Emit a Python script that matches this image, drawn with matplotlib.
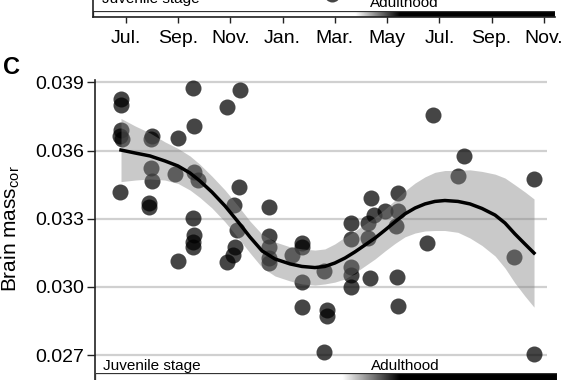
import numpy as np
import matplotlib.pyplot as plt
from matplotlib.patches import Rectangle

plt.rcParams['font.family'] = ['Liberation Sans', 'DejaVu Sans']
plt.rcParams['mathtext.default'] = 'regular'

W, H = 565, 380

# panel C: corrected brain mass vs. capture month (0 = July of first year)
month = [-0.18, -0.18, -0.18, -0.22, -0.14, -0.22,
         1.01, 0.97, 0.97, 1.01, 0.89, 0.89,
         2.00, 1.89, 2.00, 2.57, 2.61, 2.61, 2.77, 2.57, 2.61, 2.57, 2.57,
         3.88, 4.37, 4.33, 4.14, 4.26, 4.18, 4.10, 3.88,
         5.48, 5.48, 5.48, 5.48, 5.48,
         6.36, 6.74, 6.74, 6.74, 6.74,
         7.59, 7.70, 7.70, 7.59,
         8.62, 8.62, 8.62, 8.62, 8.62,
         9.38, 9.27, 9.50, 9.27, 9.35,
         9.92, 10.42, 10.42, 10.34, 10.38, 10.42,
         11.76, 11.53, 12.94, 12.71, 14.85, 15.62, 15.62]
brain = [0.03827, 0.03800, 0.03690, 0.03664, 0.03651, 0.03417,
         0.03664, 0.03651, 0.03523, 0.03466, 0.03369, 0.03351,
         0.03655, 0.03497, 0.03114, 0.03875, 0.03708, 0.03505, 0.03470, 0.03303, 0.03228, 0.03198, 0.03176,
         0.03791, 0.03866, 0.03439, 0.03360, 0.03250, 0.03176, 0.03140, 0.03110,
         0.03351, 0.03224, 0.03176, 0.03127, 0.03105,
         0.03140, 0.03193, 0.03176, 0.03022, 0.02912,
         0.03070, 0.02898, 0.02872, 0.02714,
         0.03281, 0.03211, 0.03088, 0.03052, 0.03000,
         0.03391, 0.03281, 0.03316, 0.03215, 0.03039,
         0.03334, 0.03413, 0.03334, 0.03268, 0.03044, 0.02916,
         0.03756, 0.03193, 0.03576, 0.03488, 0.03131, 0.03475, 0.02705]

# smoother
fit_month = [-0.18, 0.36, 0.93, 1.50, 2.00, 2.46, 2.84, 3.30, 3.80, 4.30, 4.75, 5.22, 5.71,
             6.29, 6.74, 7.24, 7.62, 8.00, 8.39, 8.77, 9.15, 9.54, 9.92, 10.30, 10.68,
             11.07, 11.45, 11.83, 12.21, 12.71, 13.17, 13.63, 14.13, 14.51, 14.89, 15.27, 15.62]
fit_val = [0.03602, 0.03589, 0.03576, 0.03554, 0.03532, 0.03501, 0.03466, 0.03417, 0.03356,
           0.03286, 0.03220, 0.03158, 0.03123, 0.03101, 0.03090, 0.03085, 0.03090, 0.03105,
           0.03127, 0.03154, 0.03184, 0.03215, 0.03250, 0.03286, 0.03321, 0.03347, 0.03365,
           0.03376, 0.03380, 0.03376, 0.03365, 0.03345, 0.03316, 0.03281, 0.03233, 0.03189, 0.03149]
fit_lo = [0.03463, 0.03470, 0.03475, 0.03470, 0.03455, 0.03426, 0.03393, 0.03347, 0.03286,
          0.03216, 0.03150, 0.03085, 0.03048, 0.03026, 0.03013, 0.03008, 0.03013, 0.03021,
          0.03035, 0.03062, 0.03092, 0.03123, 0.03158, 0.03191, 0.03220, 0.03237, 0.03246,
          0.03248, 0.03248, 0.03240, 0.03215, 0.03182, 0.03136, 0.03083, 0.03017, 0.02960, 0.02911]
fit_hi = [0.03741, 0.03708, 0.03677, 0.03638, 0.03609, 0.03576, 0.03539, 0.03487, 0.03426,
          0.03356, 0.03290, 0.03231, 0.03198, 0.03176, 0.03167, 0.03162, 0.03167, 0.03189,
          0.03219, 0.03246, 0.03276, 0.03307, 0.03342, 0.03381, 0.03422, 0.03457, 0.03484,
          0.03504, 0.03512, 0.03512, 0.03515, 0.03508, 0.03496, 0.03479, 0.03449, 0.03418, 0.03387]

y_ticks = [0.027, 0.030, 0.033, 0.036, 0.039]
month_ticks = [0, 2, 4, 6, 8, 10, 12, 14, 16]
month_labels = ['Jul.', 'Sep.', 'Nov.', 'Jan.', 'Mar.', 'May', 'Jul.', 'Sep.', 'Nov.']

# panel B (cropped above): one visible point
b_month = [7.88]
b_level = [0.49]


def box(x0, y0, x1, y1):
    return [x0 / W, 1 - y1 / H, (x1 - x0) / W, (y1 - y0) / H]

def px2month(px):
    return (px - 125.7) / 26.14

def py2val(py):
    return 0.039 - (py - 82.3) * 0.003 / 68.2

def stage_bar(ax, x0, x1, g0, g1):
    xs = np.linspace(x0, x1, 600)
    shade = np.clip((xs - g0) / (g1 - g0), 0, 1)[None, :]
    ax.imshow(shade, cmap='gray_r', vmin=0, vmax=1, aspect='auto',
              extent=(x0, x1, 0, 1), interpolation='bilinear')
    ax.add_patch(Rectangle((x0, 0), x1 - x0, 1, fill=False, ec='#333333', lw=0.9))
    ax.set_xlim(x0, x1)
    ax.set_ylim(0, 1)
    ax.axis('off')


fig = plt.figure(figsize=(W / 100, H / 100), dpi=100)

# ---- remains of panel B at top ----
barb = fig.add_axes(box(93, 10.7, 555, 17.3))
stage_bar(barb, px2month(93), px2month(555), 8.8, 10.5)

axb = fig.add_axes(box(93, -30, 555, 17.3))
axb.patch.set_alpha(0)
axb.set_xlim(px2month(93), px2month(555))
axb.set_ylim(0, 1)
for s in ['top', 'right']:
    axb.spines[s].set_visible(False)
for s in ['left', 'bottom']:
    axb.spines[s].set_color('#222222')
    axb.spines[s].set_linewidth(1.2)
axb.set_yticks([])
axb.set_xticks(month_ticks)
axb.set_xticklabels(month_labels, fontsize=14)
axb.tick_params(axis='x', length=4.5, width=1, color='#222222', pad=5)
axb.scatter(b_month, b_level, s=133, color='k', alpha=0.73, lw=0)

fig.text(101.7 / W, 1 - 3.5 / H, 'Juvenile stage', fontsize=11, va='baseline')
fig.text(370 / W, 1 - 7 / H, 'Adulthood', fontsize=11, va='baseline')

# ---- panel C ----
axc = fig.add_axes(box(95, 80, 547, 380))
axc.set_xlim(px2month(95), px2month(547))
axc.set_ylim(py2val(380), py2val(80))
for s in ['top', 'right', 'bottom']:
    axc.spines[s].set_visible(False)
axc.spines['left'].set_color('#222222')
axc.spines['left'].set_linewidth(1.2)
axc.set_xticks([])
axc.set_yticks(y_ticks)
axc.set_yticklabels(['%.3f' % v for v in y_ticks], fontsize=14)
axc.tick_params(axis='y', length=5.5, width=1, color='#222222', pad=2.5)
axc.yaxis.grid(True, color='#d0d0d0', lw=1.6)
axc.set_axisbelow(True)

axc.scatter(month, brain, s=133, color='k', alpha=0.73, lw=0, zorder=2)
axc.fill_between(fit_month, fit_lo, fit_hi, color='#808080', alpha=0.42, lw=0, zorder=3)
axc.plot(fit_month, fit_val, color='k', lw=2.5, zorder=4)

barc = fig.add_axes(box(95, 373.3, 557, 381))
stage_bar(barc, px2month(95), px2month(557), 8.3, 10.5)

fig.text(103 / W, 1 - 370 / H, 'Juvenile stage', fontsize=11, va='baseline')
fig.text(371 / W, 1 - 370.5 / H, 'Adulthood', fontsize=11, va='baseline')

fig.text(11 / W, 1 - 229 / H, 'Brain mass$_{cor}$', rotation=90, fontsize=15,
         ha='center', va='center')
fig.text(12 / W, 1 - 68 / H, 'C', fontsize=17, fontweight='bold', ha='center', va='center')

fig.savefig('out.png', dpi=100)
